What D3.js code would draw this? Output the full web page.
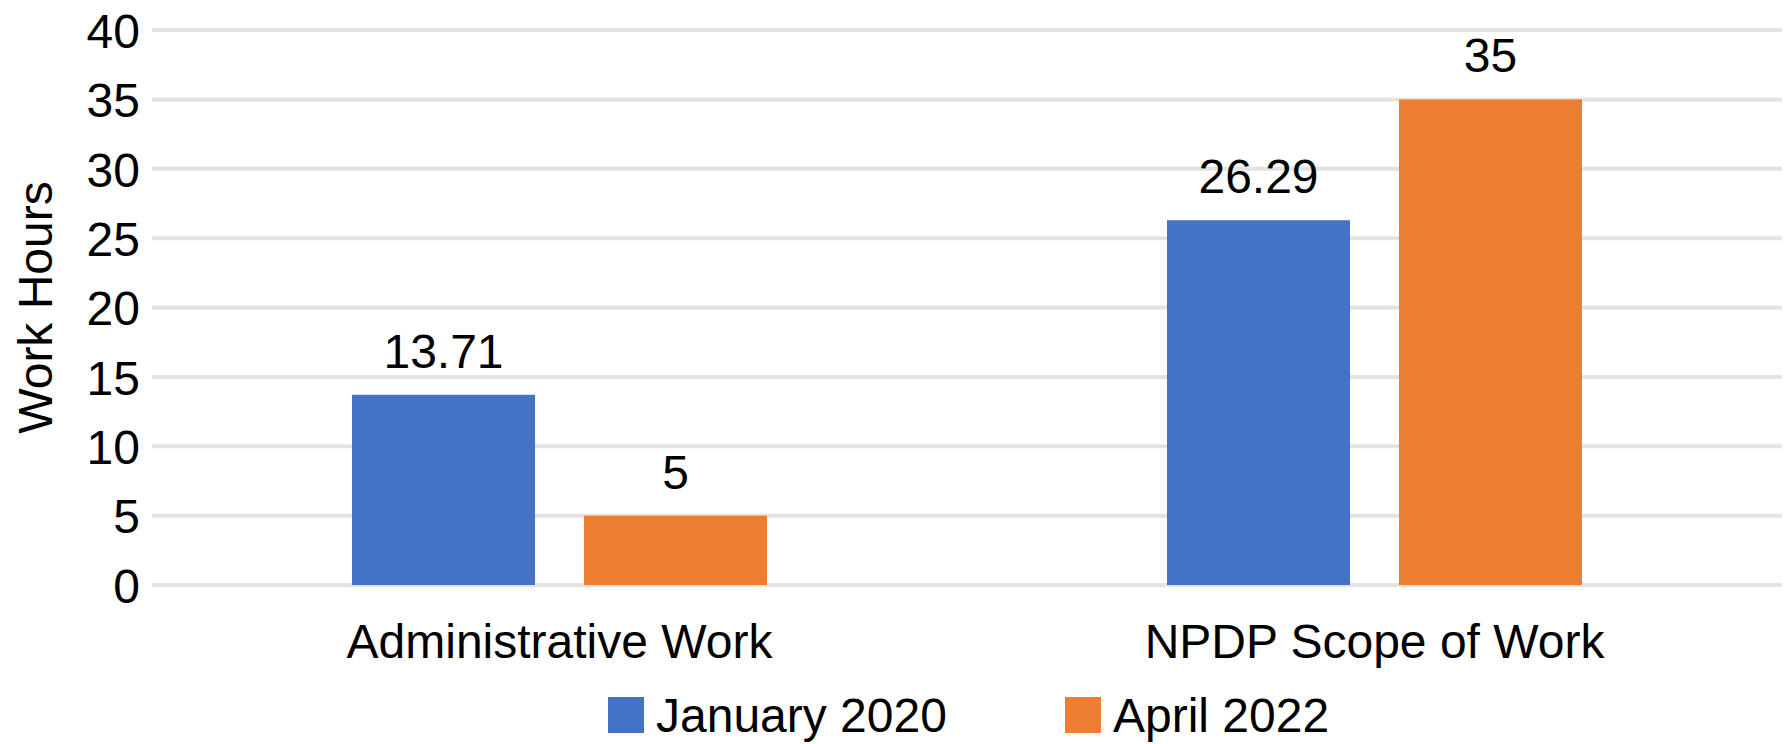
<!DOCTYPE html>
<html>
<head>
<meta charset="utf-8">
<script src="https://cdn.jsdelivr.net/npm/d3@7"></script>
<style>
  body { margin: 0; background: #fff; }
  svg text { font-family: "Liberation Sans", Arial, sans-serif; fill: #000; }
</style>
</head>
<body>
<svg id="chart" width="1791" height="744"></svg>
<script>
var categories = ["Administrative Work", "NPDP Scope of Work"];
var seriesNames = ["January 2020", "April 2022"];
var jan2020 = [13.71, 26.29];
var apr2022 = [5, 35];
var yTicks = [0, 5, 10, 15, 20, 25, 30, 35, 40];

var seriesColors = ["#4472c4", "#ed7d31"];
var fontSize = 48;
var plotLeft = 152, plotRight = 1782, plotTop = 30, plotBottom = 585;

var svg = d3.select("#chart");

var x0 = d3.scaleBand()
    .domain(categories)
    .range([plotLeft, plotRight]);

var x1 = d3.scaleBand()
    .domain(seriesNames)
    .range([0, x0.bandwidth()])
    .paddingInner(0.211)
    .paddingOuter(0.862);

var y = d3.scaleLinear()
    .domain([0, 40])
    .range([plotBottom, plotTop]);

// gridlines
svg.append("g")
    .selectAll("line")
    .data(yTicks)
    .enter().append("line")
    .attr("x1", plotLeft)
    .attr("x2", plotRight)
    .attr("y1", function(d) { return y(d); })
    .attr("y2", function(d) { return y(d); })
    .style("stroke", "#e3e3e3")
    .style("stroke-width", "4px");

// y axis labels
var yAxis = d3.axisLeft(y).tickValues(yTicks).tickSize(0).tickPadding(12);
var yg = svg.append("g")
    .attr("transform", "translate(" + plotLeft + ",0)")
    .call(yAxis);
yg.select(".domain").remove();
yg.selectAll("text")
    .style("font-size", fontSize + "px")
    .attr("dy", "0.36em");

// y axis title
svg.append("text")
    .attr("transform", "translate(52," + ((plotTop + plotBottom) / 2) + ") rotate(-90)")
    .attr("text-anchor", "middle")
    .style("font-size", fontSize + "px")
    .text("Work Hours");

var rows = categories.map(function(c, i) {
    return { category: c, values: [jan2020[i], apr2022[i]] };
});

var groups = svg.append("g")
    .selectAll("g")
    .data(rows)
    .enter().append("g")
    .attr("transform", function(d) { return "translate(" + x0(d.category) + ",0)"; });

groups.selectAll("rect")
    .data(function(d) { return d.values.map(function(v, i) { return { name: seriesNames[i], value: v, idx: i }; }); })
    .enter().append("rect")
    .attr("x", function(d) { return x1(d.name); })
    .attr("width", x1.bandwidth())
    .attr("y", function(d) { return y(d.value); })
    .attr("height", function(d) { return y(0) - y(d.value); })
    .style("fill", function(d) { return seriesColors[d.idx]; });

// data labels
groups.selectAll("text.val")
    .data(function(d) { return d.values.map(function(v, i) { return { name: seriesNames[i], value: v }; }); })
    .enter().append("text")
    .attr("class", "val")
    .attr("x", function(d) { return x1(d.name) + x1.bandwidth() / 2; })
    .attr("y", function(d) { return y(d.value) - 27; })
    .attr("text-anchor", "middle")
    .style("font-size", fontSize + "px")
    .text(function(d) { return d.value; });

// category labels
svg.append("g")
    .selectAll("text")
    .data(categories)
    .enter().append("text")
    .attr("x", function(d) { return x0(d) + x0.bandwidth() / 2; })
    .attr("y", 658)
    .attr("text-anchor", "middle")
    .style("font-size", fontSize + "px")
    .text(function(d) { return d; });

// legend
var legendX = [608, 1065];
var legend = svg.append("g")
    .selectAll("g")
    .data(seriesNames)
    .enter().append("g")
    .attr("transform", function(d, i) { return "translate(" + legendX[i] + ",697)"; });
legend.append("rect")
    .attr("width", 36)
    .attr("height", 36)
    .style("fill", function(d, i) { return seriesColors[i]; });
legend.append("text")
    .attr("x", 48)
    .attr("y", 35)
    .style("font-size", fontSize + "px")
    .text(function(d) { return d; });
</script>
</body>
</html>
